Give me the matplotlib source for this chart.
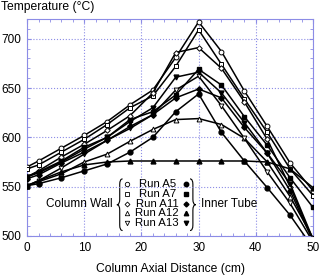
from matplotlib import pyplot as plt
from matplotlib.ticker import MultipleLocator
from matplotlib.path import Path
from matplotlib.patches import PathPatch

plt.rcParams['font.family'] = ['Liberation Sans', 'DejaVu Sans']

# axial positions of thermocouples (cm)
x = [0, 2, 6, 10, 14, 18, 22, 26, 30, 34, 38, 42, 46, 50]

# column wall (open markers)
wall_a5 = [570, 576, 589, 602, 616, 633, 648, 681, 717, 687, 647, 611, 574, 546]
wall_a7 = [568, 572, 585, 598, 613, 630, 642, 672, 709, 674, 639, 605, 568, 541]
wall_a11 = [560, 566, 580, 593, 607, 622, 645, 686, 691, 670, 636, 598, 550, 496]
wall_a12 = [551, 555, 563, 575, 583, 596, 608, 618, 619, 613, 599, 575, 540, 498]
wall_a13 = [551, 556, 569, 583, 597, 609, 623, 648, 662, 632, 599, 565, 533, 494]

# inner tube (filled markers)
tube_a5 = [551, 553, 559, 566, 573, 585, 600, 626, 644, 605, 576, 549, 521, 488]
tube_a7 = [560, 565, 576, 590, 600, 618, 626, 643, 669, 653, 621, 592, 559, 529]
tube_a11 = [558, 562, 574, 585, 597, 611, 623, 640, 649, 640, 610, 584, 546, 495]
tube_a12 = [551, 556, 565, 572, 575, 576, 576, 576, 576, 576, 576, 575, 568, 549]
tube_a13 = [560, 564, 575, 588, 600, 616, 630, 661, 666, 645, 615, 584, 553, 497]

runs = ['Run A5', 'Run A7', 'Run A11', 'Run A12', 'Run A13']
markers = ['o', 's', 'D', '^', 'v']
wall = [wall_a5, wall_a7, wall_a11, wall_a12, wall_a13]
tube = [tube_a5, tube_a7, tube_a11, tube_a12, tube_a13]

blue = '#8c8ce6'


def msize(m):
    return 2.8 if m == 'D' else 3.5


def brace(ax, xl, xr, yt, yb, left=True):
    # curly brace in axes coordinates, tip on the left when left=True
    xm = (xl + xr) / 2
    ym = (yt + yb) / 2
    d = 0.025
    tip, end = (xl, xr) if left else (xr, xl)
    verts = [(end, yt), (xm, yt), (xm, yt - d), (xm, ym + d), (xm, ym), (tip, ym),
             (xm, ym), (xm, ym - d), (xm, yb + d), (xm, yb), (end, yb)]
    codes = [Path.MOVETO, Path.CURVE3, Path.CURVE3, Path.LINETO, Path.CURVE3, Path.CURVE3,
             Path.CURVE3, Path.CURVE3, Path.LINETO, Path.CURVE3, Path.CURVE3]
    ax.add_patch(PathPatch(Path(verts, codes), fc='none', ec='black', lw=0.8,
                           transform=ax.transAxes, clip_on=False))


fig = plt.figure(figsize=(3.19, 2.75), dpi=100)
ax = fig.add_axes([0.085, 0.142, 0.896, 0.789])

for y, m in zip(wall, markers):
    ax.plot(x, y, '-', color='black', lw=1.1, marker=m, ms=msize(m),
            mfc='white', mec='black', mew=0.7, zorder=3)
for y, m in zip(tube, markers):
    ax.plot(x, y, '-', color='black', lw=1.1, marker=m, ms=msize(m),
            mfc='black', mec='black', zorder=3)

ax.set_xlim(0, 50)
ax.set_ylim(500, 720)
ax.xaxis.set_major_locator(MultipleLocator(10))
ax.xaxis.set_minor_locator(MultipleLocator(2))
ax.yaxis.set_major_locator(MultipleLocator(50))
ax.yaxis.set_minor_locator(MultipleLocator(10))
ax.tick_params(which='both', direction='in', top=True, right=True, color=blue,
               labelsize=8.5, pad=4.5)
ax.tick_params(which='major', length=3)
ax.tick_params(which='minor', length=2)
for s in ax.spines.values():
    s.set_color(blue)
ax.grid(True, which='major', color=blue, ls=':', lw=0.8)
ax.set_xlabel('Column Axial Distance (cm)', fontsize=8.7, labelpad=6)
fig.text(0.003, 0.975, 'Temperature (\u00b0C)', fontsize=8.7, va='center', ha='left')

# legend drawn by hand
rows = [0.240, 0.194, 0.147, 0.106, 0.060]
for r, name, m in zip(rows, runs, markers):
    ax.plot(0.348, r, marker=m, ms=msize(m) - 0.3, mfc='white', mec='black', mew=0.6,
            transform=ax.transAxes, clip_on=False)
    ax.text(0.455, r, name, fontsize=8.2, va='center', ha='center',
            transform=ax.transAxes)
    ax.plot(0.556, r, marker=m, ms=msize(m) - 0.3, mfc='black', mec='black',
            transform=ax.transAxes, clip_on=False)
brace(ax, 0.314, 0.334, 0.263, 0.025, left=True)
brace(ax, 0.570, 0.590, 0.263, 0.025, left=False)
ax.text(0.298, 0.147, 'Column Wall', fontsize=8.5, va='center', ha='right',
        transform=ax.transAxes)
ax.text(0.607, 0.147, 'Inner Tube', fontsize=8.5, va='center', ha='left',
        transform=ax.transAxes)

plt.savefig('out.png', dpi=100)
